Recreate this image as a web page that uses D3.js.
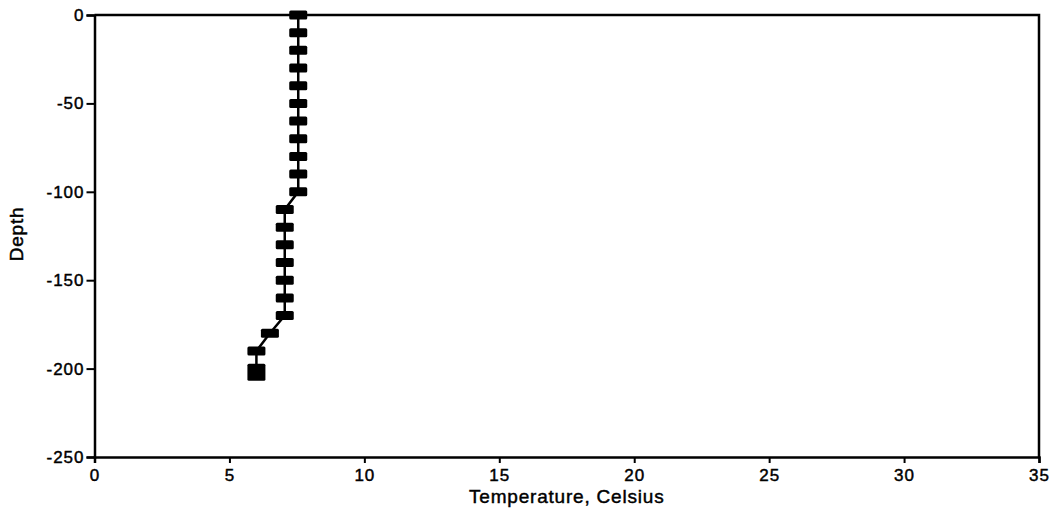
<!DOCTYPE html>
<html>
<head>
<meta charset="utf-8">
<script src="https://cdn.jsdelivr.net/npm/d3@7"></script>
<style>
  html, body { margin: 0; padding: 0; background: #fff; }
  svg { display: block; }
  text { font-family: "Liberation Sans", Arial, Helvetica, sans-serif; fill: #000; stroke: #000; stroke-width: 0.45px; }
</style>
</head>
<body>
<svg id="chart" width="1062" height="513"></svg>
<script>
// ---- data ----
const depths = [0, -10, -20, -30, -40, -50, -60, -70, -80, -90, -100,
                -110, -120, -130, -140, -150, -160, -170, -180, -190, -202];
const temps  = [7.55, 7.55, 7.55, 7.55, 7.55, 7.55, 7.55, 7.55, 7.55, 7.55, 7.55,
                7.05, 7.05, 7.05, 7.05, 7.05, 7.05, 7.05, 6.5, 6.0, 6.0];
const xTicks = [0, 5, 10, 15, 20, 25, 30, 35];
const yTicks = [0, -50, -100, -150, -200, -250];
const xTitle = "Temperature, Celsius";
const yTitle = "Depth";

(function () {
const points = depths.map((d, i) => ({ depth: d, temp: temps[i], last: i === depths.length - 1 }));

// ---- layout ----
const svg = d3.select("#chart");
const mLeft = 94.5, mRight = 1039, mTop = 15, mBottom = 457;

const x = d3.scaleLinear().domain([0, 35]).range([mLeft, mRight]);
const y = d3.scaleLinear().domain([-250, 0]).range([mBottom, mTop]);

// frame (top and right)
svg.append("path")
  .attr("d", `M${mLeft},${mTop}H${mRight}V${mBottom}`)
  .attr("fill", "none").attr("stroke", "#000").attr("stroke-width", 2.5);

// axes
const xAxis = svg.append("g").attr("transform", `translate(0,${mBottom})`)
  .call(d3.axisBottom(x).tickValues(xTicks).tickSize(6).tickPadding(5).tickFormat(d3.format("d")));
const yAxis = svg.append("g").attr("transform", `translate(${mLeft},0)`)
  .call(d3.axisLeft(y).tickValues(yTicks).tickSize(8).tickPadding(2).tickFormat(d => d));

[xAxis, yAxis].forEach(g => {
  g.select(".domain").attr("stroke", "#000").attr("stroke-width", 2.5);
  g.selectAll(".tick line").attr("stroke", "#000").attr("stroke-width", 2);
  g.selectAll(".tick text")
    .attr("fill", "#000")
    .style("font-family", '"Liberation Sans", Arial, sans-serif')
    .style("font-size", "17px")
    .style("letter-spacing", "1px");
});
xAxis.selectAll(".tick text").attr("dy", "0.75em");

// titles
svg.append("text")
  .attr("x", (mLeft + mRight) / 2).attr("y", 503)
  .attr("text-anchor", "middle")
  .style("font-size", "19px").style("letter-spacing", "0.8px")
  .text(xTitle);
svg.append("text")
  .attr("transform", `translate(23,${(mTop + mBottom) / 2 - 2}) rotate(-90)`)
  .attr("text-anchor", "middle")
  .style("font-size", "19px").style("letter-spacing", "0.8px")
  .text(yTitle);

// line
const line = d3.line().x(d => x(d.temp)).y(d => y(d.depth));
svg.append("path").datum(points)
  .attr("d", line)
  .attr("fill", "none").attr("stroke", "#000").attr("stroke-width", 2.5);

// markers
svg.append("g").selectAll("rect").data(points).join("rect")
  .attr("x", d => x(d.temp) - 9)
  .attr("y", d => y(d.depth) - (d.last ? 8.5 : 4.5))
  .attr("width", 18)
  .attr("height", d => d.last ? 17 : 9)
  .attr("rx", 1.5)
  .attr("fill", "#000");
})();
</script>
</body>
</html>
